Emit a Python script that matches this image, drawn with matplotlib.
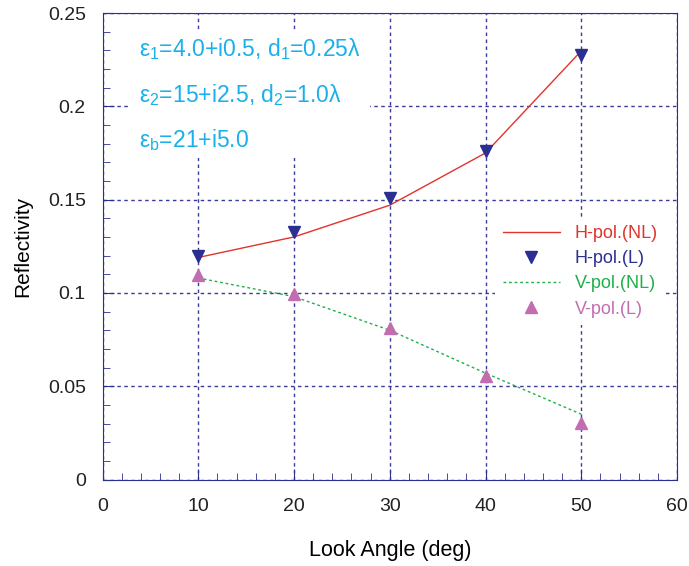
import matplotlib
matplotlib.use('Agg')
import matplotlib.pyplot as plt
from matplotlib.patches import Rectangle
from matplotlib.ticker import MultipleLocator

plt.rcParams['font.family'] = ['Liberation Sans', 'DejaVu Sans']
plt.rcParams['mathtext.fontset'] = 'custom'
plt.rcParams['mathtext.rm'] = 'Liberation Sans'
plt.rcParams['mathtext.it'] = 'Liberation Sans'

angle = [10, 20, 30, 40, 50]
h_nl = [0.119, 0.130, 0.147, 0.175, 0.2297]
h_l = [0.120, 0.1325, 0.151, 0.176, 0.2275]
v_nl = [0.108, 0.098, 0.080, 0.057, 0.035]
v_l = [0.1095, 0.0994, 0.081, 0.0555, 0.0305]

navy = '#2b2f8f'
fig = plt.figure(figsize=(6.89, 5.66), dpi=100)
ax = fig.add_axes([0.1488, 0.1528, 0.8338, 0.8242])

ax.plot(angle, h_nl, color='#e0342c', lw=1, label='H-pol.(NL)')
ax.plot(angle, h_l, 'v', color=navy, ms=9, ls='none', label='H-pol.(L)')
ax.plot(angle, v_nl, color='#1fb04a', lw=1, ls=(0, (2, 2)), label='V-pol.(NL)')
ax.plot(angle, v_l, '^', color='#c26db0', ms=9, ls='none', label='V-pol.(L)')

ax.set_xlim(0, 60)
ax.set_ylim(0, 0.25)
ax.set_xticks([0, 10, 20, 30, 40, 50, 60])
ax.set_yticks([0, 0.05, 0.1, 0.15, 0.2, 0.25])
ax.set_yticklabels(['0', '0.05', '0.1', '0.15', '0.2', '0.25'])
ax.xaxis.set_minor_locator(MultipleLocator(2))
ax.yaxis.set_minor_locator(MultipleLocator(0.01))
ax.tick_params(which='both', direction='in', color=navy)
ax.tick_params(which='major', labelsize=14, length=8, labelcolor='#222222')
ax.tick_params(axis='x', which='major', pad=13)
ax.tick_params(axis='y', which='major', pad=12)
ax.tick_params(which='minor', length=5)
for s in ax.spines.values():
    s.set_color(navy)
ax.grid(True, color='#3a3a9a', ls=(0, (2.5, 2.5)), lw=1)
ax.set_xlabel('Look Angle (deg)', fontsize=15.5, labelpad=18)
ax.set_ylabel('Reflectivity', fontsize=15, labelpad=11)

# white box behind the parameter text
ax.add_patch(Rectangle((2.66, 0.1723), 25.3, 0.0686, facecolor='white',
                       edgecolor='none', zorder=2))
txt_color = '#1ab0ea'
ax.text(3.8, 0.2309, r'$\mathregular{ε_1}$=4.0+i0.5, d$\mathregular{_1}$=0.25λ',
        color=txt_color, fontsize=16.5, va='center', zorder=3)
ax.text(3.8, 0.2062, r'$\mathregular{ε_2}$=15+i2.5, d$\mathregular{_2}$=1.0λ',
        color=txt_color, fontsize=16.5, va='center', zorder=3)
ax.text(3.8, 0.1819, r'$\mathregular{ε_b}$=21+i5.0',
        color=txt_color, fontsize=16.5, va='center', zorder=3)

leg = ax.legend(loc='upper right', bbox_to_anchor=(0.995, 0.58), frameon=True,
                fontsize=13, handlelength=3.2, labelspacing=0.45,
                framealpha=1, edgecolor='none', fancybox=False)
for t, c in zip(leg.get_texts(), ['#e0342c', navy, '#1fb04a', '#c26db0']):
    t.set_color(c)

fig.savefig('out.png', dpi=100)
